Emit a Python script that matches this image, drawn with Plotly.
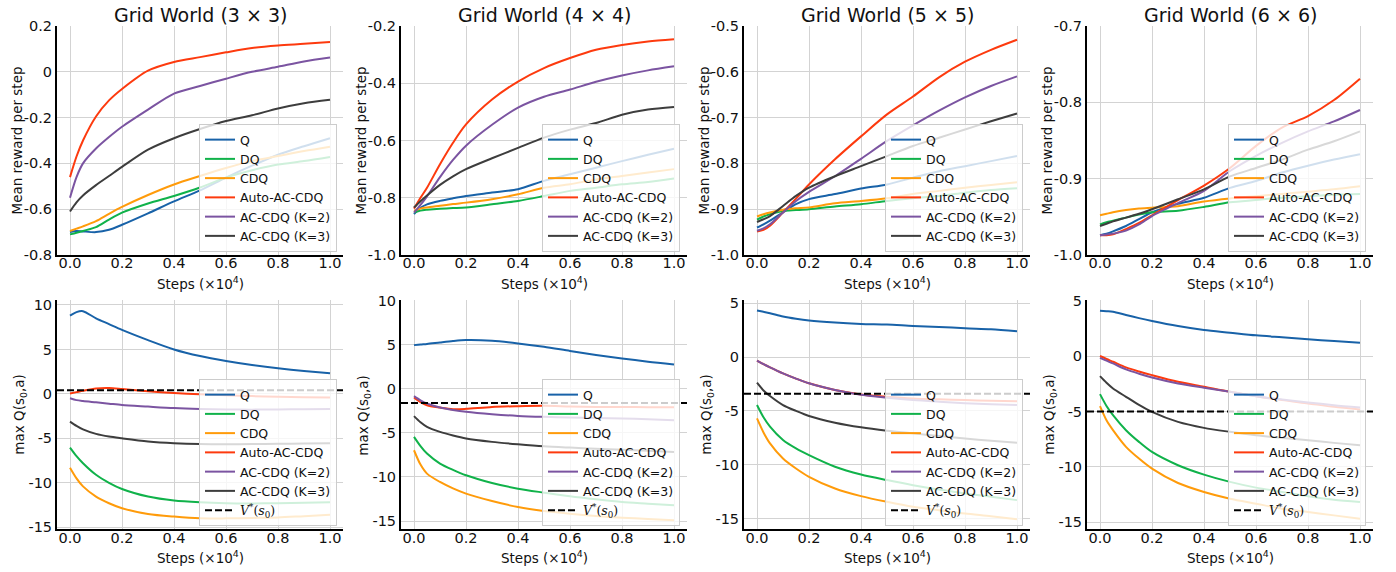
import plotly.graph_objects as go

# ---------------- data ----------------
STEPS = [0.0, 0.025, 0.05, 0.1, 0.15, 0.2, 0.3, 0.4, 0.5, 0.6, 0.7, 0.8, 0.9, 1.0]
SERIES = ["Q", "DQ", "CDQ", "Auto-AC-CDQ", "AC-CDQ (K=2)", "AC-CDQ (K=3)"]
TITLES = ["Grid World (3 × 3)", "Grid World (4 × 4)", "Grid World (5 × 5)", "Grid World (6 × 6)"]

# Mean reward per step (top row)
r3_q = [-0.70, -0.695, -0.697, -0.70, -0.69, -0.668, -0.618, -0.566, -0.518, -0.462, -0.41, -0.362, -0.325, -0.29]
r3_dq = [-0.71, -0.703, -0.695, -0.678, -0.645, -0.615, -0.575, -0.542, -0.505, -0.462, -0.43, -0.405, -0.39, -0.372]
r3_cdq = [-0.695, -0.685, -0.675, -0.652, -0.62, -0.59, -0.538, -0.492, -0.455, -0.42, -0.39, -0.368, -0.346, -0.327]
r3_auto = [-0.46, -0.37, -0.30, -0.195, -0.125, -0.075, 0.005, 0.043, 0.064, 0.085, 0.104, 0.115, 0.122, 0.13]
r3_k2 = [-0.55, -0.46, -0.40, -0.335, -0.285, -0.24, -0.165, -0.095, -0.062, -0.03, 0.0, 0.022, 0.045, 0.062]
r3_k3 = [-0.61, -0.57, -0.54, -0.495, -0.455, -0.415, -0.34, -0.29, -0.25, -0.215, -0.19, -0.16, -0.137, -0.122]

r4_q = [-0.857, -0.835, -0.823, -0.811, -0.802, -0.794, -0.782, -0.77, -0.741, -0.718, -0.695, -0.672, -0.65, -0.629]
r4_dq = [-0.852, -0.845, -0.842, -0.838, -0.836, -0.834, -0.823, -0.811, -0.794, -0.776, -0.765, -0.753, -0.745, -0.733]
r4_cdq = [-0.846, -0.838, -0.834, -0.828, -0.822, -0.817, -0.805, -0.788, -0.765, -0.753, -0.736, -0.724, -0.712, -0.70]
r4_auto = [-0.838, -0.80, -0.765, -0.683, -0.608, -0.544, -0.457, -0.394, -0.347, -0.312, -0.283, -0.266, -0.254, -0.246]
r4_k2 = [-0.852, -0.825, -0.795, -0.728, -0.668, -0.618, -0.545, -0.485, -0.447, -0.422, -0.395, -0.373, -0.355, -0.341]
r4_k3 = [-0.834, -0.812, -0.792, -0.755, -0.725, -0.70, -0.662, -0.626, -0.59, -0.562, -0.539, -0.51, -0.492, -0.483]

r5_q = [-0.94, -0.933, -0.925, -0.907, -0.889, -0.878, -0.867, -0.855, -0.846, -0.831, -0.817, -0.806, -0.795, -0.784]
r5_dq = [-0.923, -0.916, -0.911, -0.904, -0.902, -0.90, -0.894, -0.889, -0.882, -0.876, -0.871, -0.864, -0.858, -0.854]
r5_cdq = [-0.916, -0.911, -0.907, -0.901, -0.898, -0.896, -0.887, -0.882, -0.876, -0.867, -0.86, -0.853, -0.847, -0.841]
r5_auto = [-0.949, -0.945, -0.936, -0.907, -0.877, -0.846, -0.791, -0.741, -0.693, -0.654, -0.612, -0.578, -0.552, -0.53]
r5_k2 = [-0.947, -0.942, -0.933, -0.907, -0.882, -0.862, -0.828, -0.79, -0.751, -0.717, -0.685, -0.656, -0.631, -0.61]
r5_k3 = [-0.928, -0.922, -0.915, -0.893, -0.871, -0.853, -0.828, -0.806, -0.784, -0.762, -0.744, -0.726, -0.708, -0.691]

r6_q = [-0.974, -0.972, -0.969, -0.962, -0.953, -0.944, -0.933, -0.925, -0.912, -0.903, -0.892, -0.883, -0.875, -0.868]
r6_dq = [-0.96, -0.957, -0.955, -0.951, -0.947, -0.944, -0.942, -0.937, -0.931, -0.928, -0.925, -0.923, -0.921, -0.92]
r6_cdq = [-0.948, -0.946, -0.944, -0.941, -0.939, -0.938, -0.936, -0.93, -0.926, -0.923, -0.92, -0.917, -0.914, -0.91]
r6_auto = [-0.974, -0.974, -0.973, -0.966, -0.958, -0.948, -0.928, -0.909, -0.886, -0.857, -0.833, -0.818, -0.797, -0.769]
r6_k2 = [-0.974, -0.973, -0.972, -0.968, -0.96, -0.949, -0.932, -0.916, -0.89, -0.87, -0.853, -0.838, -0.825, -0.81]
r6_k3 = [-0.962, -0.959, -0.956, -0.951, -0.946, -0.94, -0.927, -0.914, -0.897, -0.886, -0.875, -0.862, -0.851, -0.838]

# max Q(s0, a) (bottom row)
q3_q = [8.8, 9.2, 9.3, 8.5, 7.85, 7.2, 6.05, 5.0, 4.25, 3.7, 3.25, 2.88, 2.58, 2.32]
q3_dq = [-6.04, -7.0, -7.8, -9.1, -10.0, -10.7, -11.55, -12.0, -12.2, -12.3, -12.32, -12.3, -12.25, -12.2]
q3_cdq = [-8.3, -9.5, -10.4, -11.55, -12.3, -12.86, -13.5, -13.8, -14.0, -14.0, -13.95, -13.9, -13.75, -13.6]
q3_auto = [0.05, 0.2, 0.35, 0.6, 0.65, 0.55, 0.3, 0.1, -0.05, -0.15, -0.25, -0.32, -0.38, -0.42]
q3_k2 = [-0.5, -0.7, -0.8, -0.95, -1.1, -1.25, -1.43, -1.6, -1.7, -1.75, -1.77, -1.75, -1.72, -1.7]
q3_k3 = [-3.12, -3.6, -4.0, -4.5, -4.8, -5.0, -5.35, -5.55, -5.65, -5.67, -5.65, -5.62, -5.58, -5.55]

q4_q = [4.96, 5.04, 5.1, 5.27, 5.43, 5.53, 5.45, 5.15, 4.77, 4.3, 3.85, 3.45, 3.08, 2.77]
q4_dq = [-5.45, -6.5, -7.35, -8.48, -9.2, -9.81, -10.68, -11.33, -11.78, -12.2, -12.54, -12.84, -13.03, -13.22]
q4_cdq = [-6.97, -8.6, -9.62, -10.57, -11.3, -11.89, -12.73, -13.41, -13.86, -14.17, -14.43, -14.62, -14.77, -14.92]
q4_auto = [-0.98, -1.5, -1.86, -2.12, -2.31, -2.27, -2.05, -1.97, -1.93, -2.0, -2.05, -2.07, -2.08, -2.1]
q4_k2 = [-0.83, -1.3, -1.67, -2.12, -2.4, -2.61, -2.88, -3.07, -3.18, -3.26, -3.32, -3.37, -3.45, -3.56]
q4_k3 = [-3.1, -3.8, -4.32, -4.89, -5.3, -5.64, -6.02, -6.29, -6.52, -6.67, -6.8, -6.9, -7.03, -7.16]

q5_q = [4.32, 4.2, 4.07, 3.76, 3.55, 3.39, 3.2, 3.08, 3.02, 2.89, 2.8, 2.67, 2.58, 2.4]
q5_dq = [-4.46, -5.6, -6.47, -7.71, -8.49, -9.11, -10.19, -10.91, -11.43, -11.9, -12.3, -12.67, -12.98, -13.29]
q5_cdq = [-5.7, -7.0, -8.02, -9.42, -10.35, -11.12, -12.21, -12.92, -13.45, -13.91, -14.22, -14.53, -14.78, -15.06]
q5_auto = [-0.33, -0.65, -0.95, -1.51, -2.0, -2.44, -3.06, -3.47, -3.68, -3.84, -3.93, -4.0, -4.05, -4.1]
q5_k2 = [-0.33, -0.65, -0.95, -1.51, -2.0, -2.44, -3.06, -3.5, -3.78, -4.0, -4.15, -4.28, -4.38, -4.46]
q5_k3 = [-2.38, -3.1, -3.62, -4.46, -5.0, -5.48, -6.1, -6.53, -6.84, -7.09, -7.34, -7.56, -7.78, -7.96]

q6_q = [4.12, 4.08, 4.03, 3.73, 3.45, 3.19, 2.73, 2.37, 2.13, 1.89, 1.71, 1.53, 1.37, 1.22]
q6_dq = [-3.43, -4.5, -5.33, -6.69, -7.75, -8.66, -9.86, -10.71, -11.37, -11.89, -12.28, -12.67, -12.98, -13.19]
q6_cdq = [-4.52, -5.8, -6.69, -8.2, -9.26, -10.17, -11.47, -12.28, -12.89, -13.34, -13.79, -14.09, -14.4, -14.7]
q6_auto = [0.02, -0.25, -0.5, -1.01, -1.38, -1.71, -2.31, -2.76, -3.22, -3.61, -3.97, -4.27, -4.58, -4.82]
q6_k2 = [-0.14, -0.4, -0.65, -1.19, -1.58, -1.92, -2.46, -2.85, -3.22, -3.61, -3.91, -4.18, -4.43, -4.64]
q6_k3 = [-1.8, -2.4, -2.92, -3.67, -4.4, -5.03, -5.94, -6.48, -6.84, -7.15, -7.39, -7.6, -7.84, -8.05]

V_STAR = [0.4, -1.6, -3.4, -5.0]

X_TICKS = [0.0, 0.2, 0.4, 0.6, 0.8, 1.0]
X_TICKTEXT = ["0.0", "0.2", "0.4", "0.6", "0.8", "1.0"]
X_RANGE = [-0.05, 1.05]

TOP_YTICKS = [[0.2, 0.0, -0.2, -0.4, -0.6, -0.8],
              [-0.2, -0.4, -0.6, -0.8, -1.0],
              [-0.5, -0.6, -0.7, -0.8, -0.9, -1.0],
              [-0.7, -0.8, -0.9, -1.0]]
TOP_YTEXT = [["0.2", "0", "-0.2", "-0.4", "-0.6", "-0.8"],
             ["-0.2", "-0.4", "-0.6", "-0.8", "-1.0"],
             ["-0.5", "-0.6", "-0.7", "-0.8", "-0.9", "-1.0"],
             ["-0.7", "-0.8", "-0.9", "-1.0"]]
TOP_YRANGE = [[-0.8, 0.2], [-1.0, -0.2], [-1.0, -0.5], [-1.0, -0.7]]

BOT_YTICKS = [[10, 5, 0, -5, -10, -15], [10, 5, 0, -5, -10, -15],
              [5, 0, -5, -10, -15], [5, 0, -5, -10, -15]]
BOT_YRANGE = [[-15.23, 10.56], [-15.94, 10.08], [-16.0, 5.3], [-15.66, 5.09]]

TOP_DATA = [[r3_q, r3_dq, r3_cdq, r3_auto, r3_k2, r3_k3],
            [r4_q, r4_dq, r4_cdq, r4_auto, r4_k2, r4_k3],
            [r5_q, r5_dq, r5_cdq, r5_auto, r5_k2, r5_k3],
            [r6_q, r6_dq, r6_cdq, r6_auto, r6_k2, r6_k3]]
BOT_DATA = [[q3_q, q3_dq, q3_cdq, q3_auto, q3_k2, q3_k3],
            [q4_q, q4_dq, q4_cdq, q4_auto, q4_k2, q4_k3],
            [q5_q, q5_dq, q5_cdq, q5_auto, q5_k2, q5_k3],
            [q6_q, q6_dq, q6_cdq, q6_auto, q6_k2, q6_k3]]

# ---------------- style ----------------
COLORS = ["#1862a8", "#10b24a", "#ff9b0a", "#fd3a0e", "#7b54a1", "#3d3d3d"]
FONT = "DejaVu Sans"
TXT = "#111111"
W, H = 1396, 572
COL_PX = [(57, 343), (401, 687), (744, 1030), (1087, 1373)]
ROW_PX = [(26, 255), (300, 529.3)]
LEG_RIGHT_PX = [337, 680, 1023, 1366]
LEG_BOTTOM_PX = [252, 526]


def px_x(p):
    return p / W


def px_y(p):
    return 1 - p / H


fig = go.Figure()
layout = dict(
    width=W, height=H, autosize=False,
    margin=dict(l=0, r=0, t=0, b=0, autoexpand=False),
    paper_bgcolor="white", plot_bgcolor="white",
    font=dict(family=FONT, color=TXT),
    annotations=[],
)

vstar_label = ('<span style="font-family:\'DejaVu Serif\'"><i>V</i><sup>*</sup>'
               '(<i>s</i><sub>0</sub>)</span>')

for row in range(2):
    for col in range(4):
        i = row * 4 + col
        ax = "" if i == 0 else str(i + 1)
        xname, yname = "x" + ax, "y" + ax
        legname = "legend" + ax
        data = TOP_DATA[col] if row == 0 else BOT_DATA[col]
        for s, (name, ys) in enumerate(zip(SERIES, data)):
            fig.add_trace(go.Scatter(
                x=STEPS, y=ys, mode="lines", name=name,
                line=dict(color=COLORS[s], width=2, shape="spline", smoothing=0.8),
                xaxis=xname, yaxis=yname, legend=legname, showlegend=True,
            ))
        if row == 1:
            fig.add_trace(go.Scatter(
                x=X_RANGE, y=[V_STAR[col], V_STAR[col]], mode="lines", name=vstar_label,
                line=dict(color="black", width=2, dash="7px,3px"),
                xaxis=xname, yaxis=yname, legend=legname, showlegend=True,
            ))

        x0, x1 = COL_PX[col]
        ytop, ybot = ROW_PX[row]
        common = dict(showgrid=True, gridcolor="#d3d3d3", gridwidth=1, zeroline=False,
                      showline=True, linecolor="black", linewidth=2, ticks="",
                      automargin=False,
                      tickfont=dict(family=FONT, size=14.5, color=TXT), mirror=False)
        layout["xaxis" + ax] = dict(
            domain=[px_x(x0), px_x(x1)], anchor=yname, range=X_RANGE,
            tickmode="array", tickvals=X_TICKS, ticktext=X_TICKTEXT,
            ticklabelstandoff=-6, **common)
        if row == 0:
            yt, ytt, yr = TOP_YTICKS[col], TOP_YTEXT[col], TOP_YRANGE[col]
        else:
            yt = BOT_YTICKS[col]
            ytt = [str(v) for v in yt]
            yr = BOT_YRANGE[col]
        layout["yaxis" + ax] = dict(
            domain=[px_y(ybot), px_y(ytop)], anchor=xname, range=yr,
            tickmode="array", tickvals=yt, ticktext=ytt, **common)

        layout[legname] = dict(
            x=px_x(LEG_RIGHT_PX[col]), y=px_y(LEG_BOTTOM_PX[row]),
            xanchor="right", yanchor="bottom",
            bgcolor="rgba(255,255,255,0.8)", bordercolor="#cccccc", borderwidth=1,
            font=dict(family=FONT, size=12.5, color=TXT),
            itemwidth=30, tracegroupgap=0,
        )

        cx = px_x((x0 + x1) / 2)
        layout["annotations"].append(dict(
            text="Steps (×10<sup>4</sup>)", xref="paper", yref="paper",
            x=cx, y=px_y(ybot + 28), xanchor="center", yanchor="middle",
            showarrow=False, font=dict(family=FONT, size=13.5, color=TXT)))
        ytitle = "Mean reward per step" if row == 0 else "max Q(s<sub>0</sub>,a)"
        off = 41 if row == 0 else 37
        layout["annotations"].append(dict(
            text=ytitle, xref="paper", yref="paper", textangle=-90,
            x=px_x(x0 - off), y=px_y((ytop + ybot) / 2), xanchor="center", yanchor="middle",
            showarrow=False, font=dict(family=FONT, size=13.5, color=TXT)))
        if row == 0:
            layout["annotations"].append(dict(
                text=TITLES[col], xref="paper", yref="paper",
                x=cx, y=px_y(15), xanchor="center", yanchor="middle",
                showarrow=False, font=dict(family=FONT, size=19, color=TXT)))

fig.update_layout(**layout)
fig.write_html("out.html", config={"displayModeBar": False},
               post_script="document.body.style.margin='0';")
